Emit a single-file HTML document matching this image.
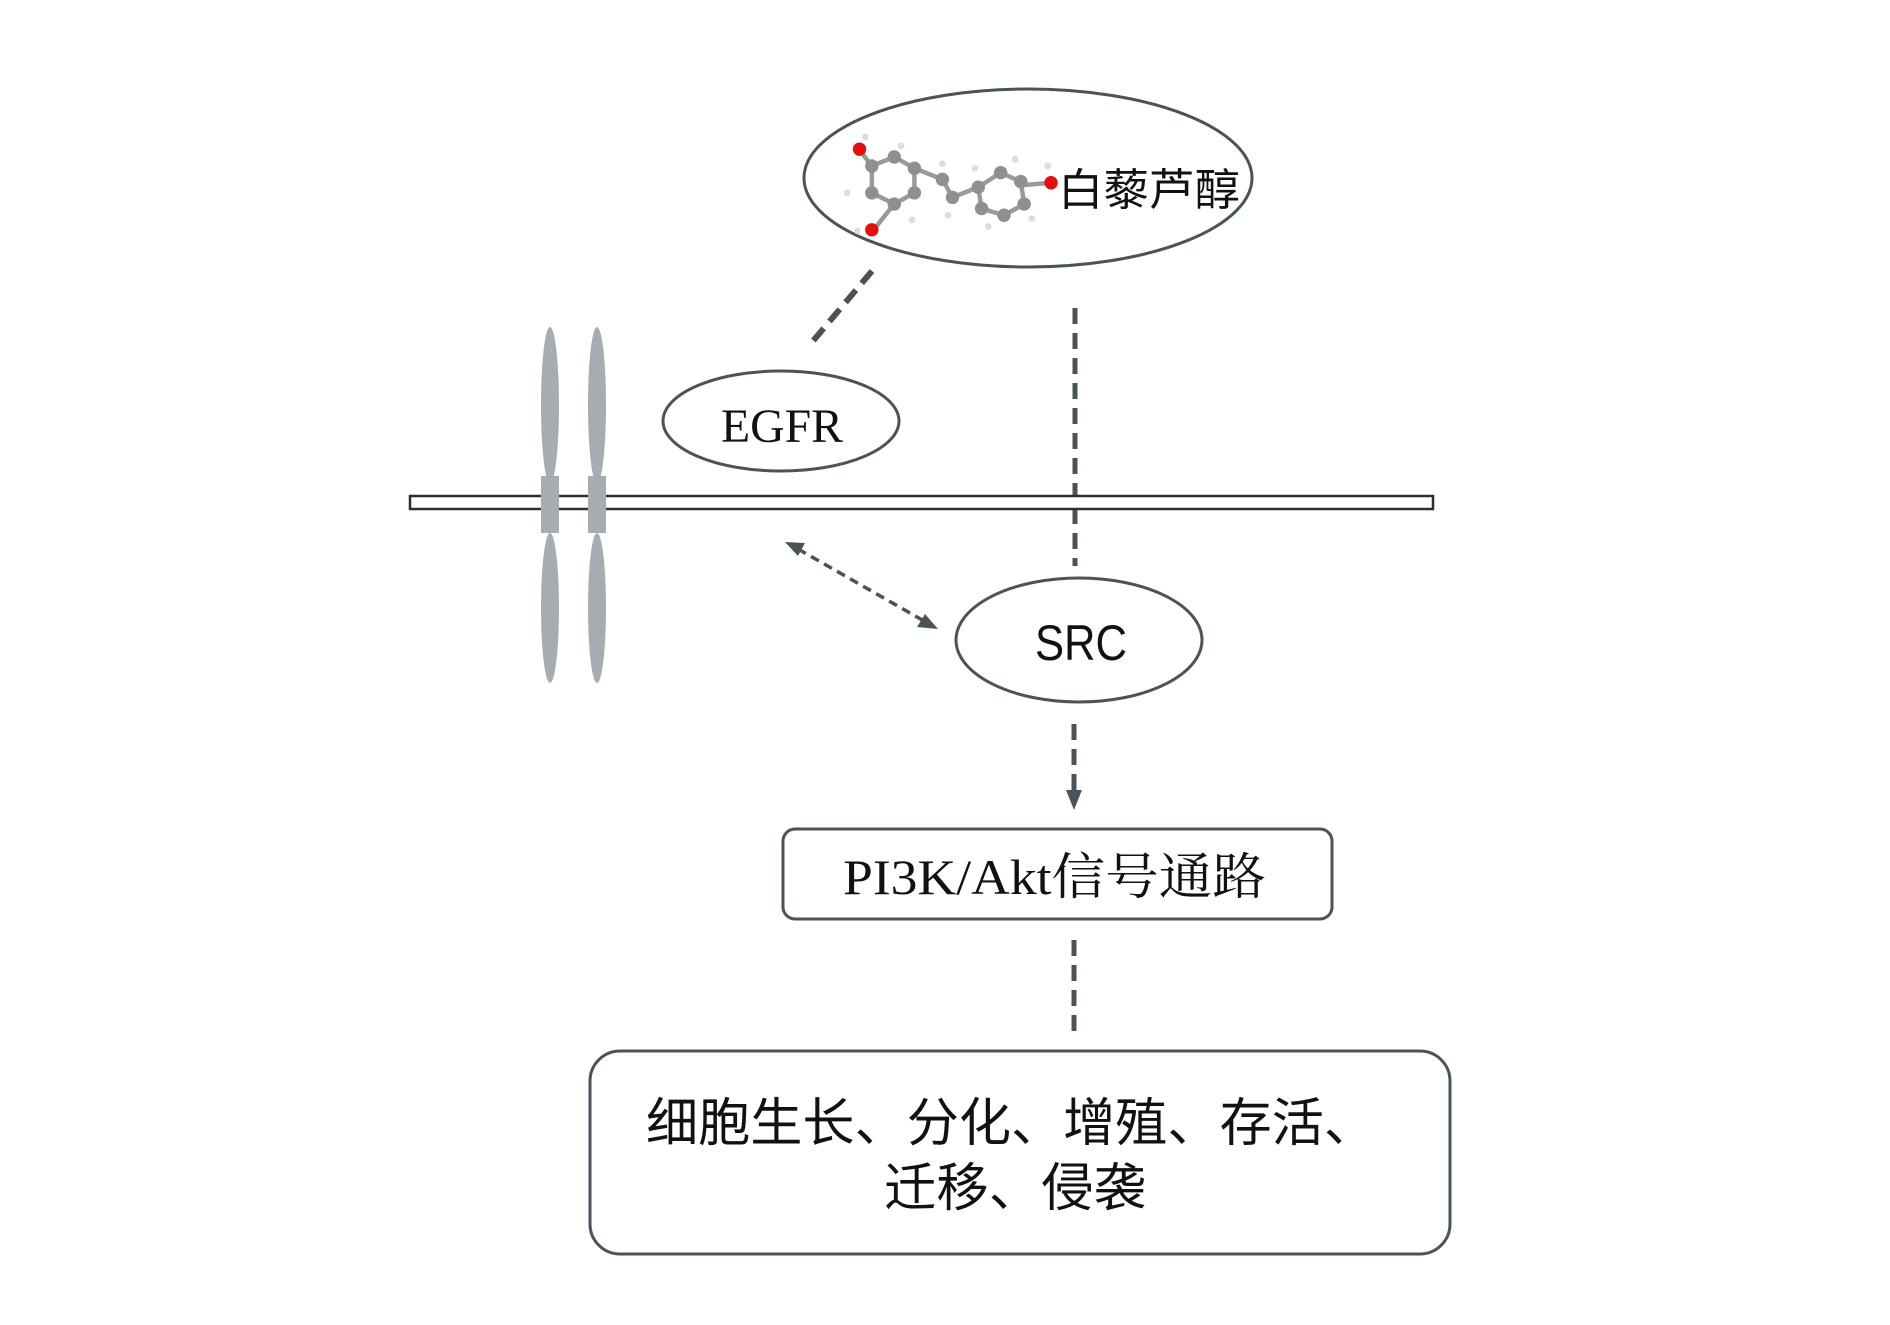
<!DOCTYPE html>
<html><head><meta charset="utf-8"><style>
html,body{margin:0;padding:0;background:#fff;}
svg{display:block;}
</style></head><body>
<svg width="1890" height="1325" viewBox="0 0 1890 1325" xmlns="http://www.w3.org/2000/svg">
<g stroke="#4a5358" fill="none" stroke-width="3">
<ellipse cx="1028" cy="178" rx="224" ry="89" fill="#fff"/>
<ellipse cx="781" cy="421" rx="118" ry="50" fill="#fff"/>
<ellipse cx="1079" cy="640" rx="123" ry="62" fill="#fff"/>
<rect x="783" y="829" width="549" height="90" rx="12" fill="#fff"/>
<rect x="590" y="1051" width="860" height="203" rx="30" fill="#fff"/>
<line x1="872" y1="271" x2="808" y2="347" stroke-width="6" stroke-dasharray="16,9"/>
<line x1="1075" y1="308" x2="1075" y2="566" stroke-width="5" stroke-dasharray="16,9"/>
<line x1="1074" y1="724" x2="1074" y2="790" stroke-width="5" stroke-dasharray="16,9"/>
<line x1="1074" y1="940" x2="1074" y2="1036" stroke-width="5" stroke-dasharray="16,9"/>
<line x1="798" y1="549" x2="924" y2="621" stroke-width="3.5" stroke-dasharray="9,6"/>
</g>
<polygon points="1074,810 1066,790 1082,790" fill="#4a5358"/>
<polygon points="785,542 805,543 798,556" fill="#4a5358"/>
<polygon points="938,629 917,627 925,614" fill="#4a5358"/>
<rect x="410" y="496" width="1023" height="13" fill="#fff" stroke="#2a2f33" stroke-width="2.5" transform="translate(0,0)"/>
<g fill="#a6adb1">
<ellipse cx="550" cy="405" rx="9" ry="78"/>
<ellipse cx="597" cy="405" rx="9" ry="78"/>
<ellipse cx="550" cy="608" rx="9" ry="75"/>
<ellipse cx="597" cy="608" rx="9" ry="75"/>
<rect x="541" y="476" width="18" height="57"/>
<rect x="588" y="476" width="18" height="57"/>
</g>
<g transform="translate(948,185) scale(1.12) translate(-948,-185)">
<g stroke="#9a9a9a" stroke-width="4" fill="none">
<polygon points="880,168 900,160 918,170 918,192 900,202 880,192"/>
<line x1="918" y1="170" x2="943" y2="180"/>
<line x1="943" y1="180" x2="952" y2="196"/>
<line x1="952" y1="196" x2="975" y2="187"/>
<polygon points="975,187 995,174 1013,182 1016,202 998,212 978,206"/>
<line x1="1016" y1="185" x2="1040" y2="183"/>
<line x1="880" y1="168" x2="870" y2="155"/>
<line x1="900" y1="202" x2="884" y2="222"/>
</g>
<g fill="#8f8f8f">
<circle cx="880" cy="168" r="6"/><circle cx="900" cy="160" r="6"/><circle cx="918" cy="170" r="6"/>
<circle cx="918" cy="192" r="6"/><circle cx="900" cy="202" r="6"/><circle cx="880" cy="192" r="6"/>
<circle cx="943" cy="180" r="6"/><circle cx="952" cy="196" r="6"/>
<circle cx="975" cy="187" r="6"/><circle cx="995" cy="174" r="6"/><circle cx="1013" cy="182" r="6"/>
<circle cx="1016" cy="202" r="6"/><circle cx="998" cy="212" r="6"/><circle cx="978" cy="206" r="6"/>
</g>
<g fill="#ddd"><circle cx="874" cy="142" r="3"/><circle cx="906" cy="150" r="3"/><circle cx="858" cy="192" r="3"/><circle cx="916" cy="216" r="3"/><circle cx="943" cy="166" r="3"/><circle cx="948" cy="212" r="3"/><circle cx="972" cy="170" r="3"/><circle cx="1008" cy="162" r="3"/><circle cx="984" cy="222" r="3"/><circle cx="1023" cy="215" r="3"/><circle cx="867" cy="226" r="3"/><circle cx="1037" cy="168" r="3"/></g>
<g fill="#e01010"><circle cx="869" cy="153" r="6"/><circle cx="880" cy="225" r="6"/><circle cx="1040" cy="183" r="6"/></g>
</g>
<text x="1058" y="205" font-family="'Liberation Sans','Noto Sans CJK SC',sans-serif" font-size="44" fill="#111" textLength="182" lengthAdjust="spacingAndGlyphs">白藜芦醇</text>
<text x="782" y="442" text-anchor="middle" font-family="'Liberation Serif',serif" font-size="48" fill="#111" textLength="122" lengthAdjust="spacingAndGlyphs">EGFR</text>
<text x="1081" y="660" text-anchor="middle" font-family="'Liberation Sans',sans-serif" font-size="50" fill="#111" textLength="92" lengthAdjust="spacingAndGlyphs">SRC</text>
<text x="843" y="894" font-family="'Liberation Serif','Noto Serif CJK SC',serif" font-size="50" fill="#111" textLength="423" lengthAdjust="spacingAndGlyphs">PI3K/Akt信号通路</text>
<text x="646" y="1141" font-family="'Liberation Sans','Noto Sans CJK SC',sans-serif" font-size="52" fill="#111" textLength="730" lengthAdjust="spacingAndGlyphs">细胞生长、分化、增殖、存活、</text>
<text x="884" y="1206" font-family="'Liberation Sans','Noto Sans CJK SC',sans-serif" font-size="52" fill="#111" textLength="262" lengthAdjust="spacingAndGlyphs">迁移、侵袭</text>
</svg>
</body></html>
